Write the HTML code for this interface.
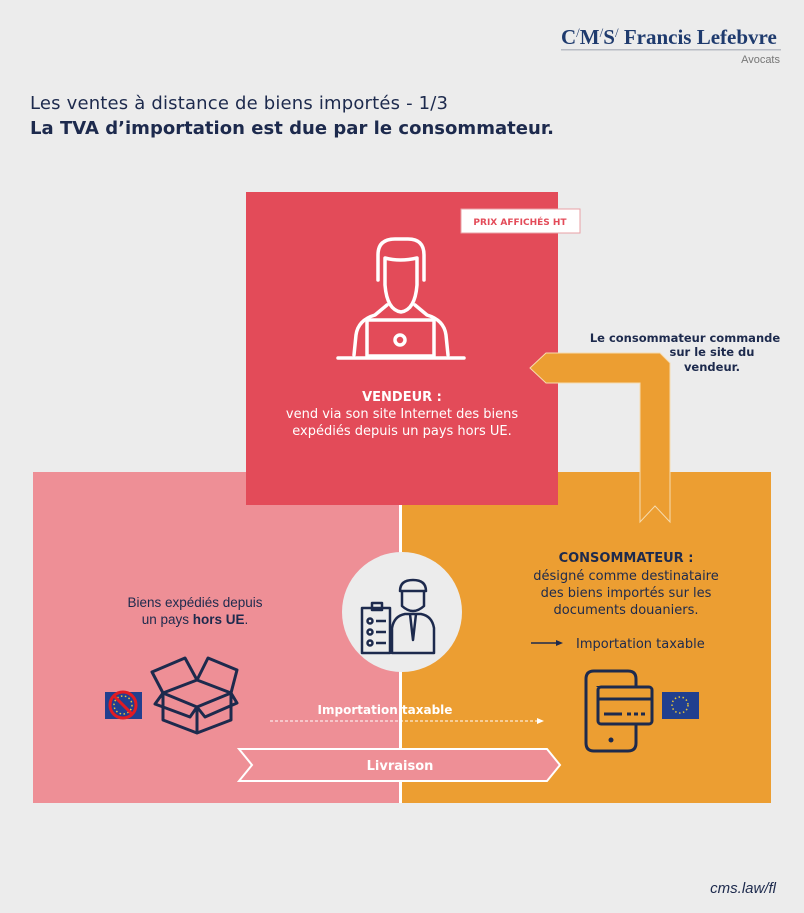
<!DOCTYPE html>
<html><head><meta charset="utf-8"><style>
body{margin:0;background:#ececec;}
svg{display:block;font-family:"Liberation Sans","DejaVu Sans",sans-serif;}
</style></head><body>
<svg width="804" height="913" viewBox="0 0 804 913" xmlns="http://www.w3.org/2000/svg">
<rect width="804" height="913" fill="#ececec"/>
<text x="561" y="44" font-family="Liberation Serif,serif" font-weight="bold" font-size="21" fill="#1f3b6e">C<tspan font-size="13" dy="-7" font-weight="normal">/</tspan><tspan dy="7">M</tspan><tspan font-size="13" dy="-7" font-weight="normal">/</tspan><tspan dy="7">S</tspan><tspan font-size="13" dy="-7" font-weight="normal">/</tspan><tspan dy="7"> Francis Lefebvre</tspan></text>
<rect x="561" y="49" width="220" height="1.5" fill="#b9bcc4"/>
<text x="780" y="63" text-anchor="end" font-size="11" fill="#777">Avocats</text>
<text x="30" y="109" font-size="18" fill="#1d2a4d" font-family="DejaVu Sans,sans-serif" textLength="418">Les ventes à distance de biens importés - 1/3</text>
<text x="30" y="134" font-size="18" font-weight="bold" fill="#1d2a4d" font-family="DejaVu Sans,sans-serif" textLength="524">La TVA d’importation est due par le consommateur.</text>
<rect x="33" y="472" width="368" height="331" fill="#ee8f96"/>
<rect x="401" y="472" width="370" height="331" fill="#ec9e32"/>
<rect x="399" y="505" width="3" height="298" fill="#fff"/>
<rect x="246" y="192" width="312" height="313" fill="#e34b59"/>
<rect x="461" y="209" width="119" height="24" fill="#fff" stroke="#e8a0a6"/>
<text x="520" y="225" text-anchor="middle" font-size="9" font-weight="bold" fill="#e34b59" font-family="DejaVu Sans,sans-serif">PRIX AFFICHÉS HT</text>
<g fill="none" stroke="#fff" stroke-width="3.5" stroke-linecap="round" stroke-linejoin="round">
<path d="M378 280 L378 255 Q378 239 395 239 L408 239 Q424 239 424 255 L424 280"/>
<path d="M385 258 L385 285 Q387 310 401 312 Q415 310 417 285 L417 258 Q400 262 385 258 Z"/>
<path d="M387 305 L375 315 Q358 320 356 335 L354 355"/>
<path d="M415 305 L427 315 Q444 320 446 335 L448 355"/>
<rect x="367" y="320" width="67" height="36"/>
<line x1="338" y1="358" x2="464" y2="358"/>
<circle cx="400" cy="340" r="5"/>
</g>
<text x="402" y="401" text-anchor="middle" font-size="13" font-weight="bold" fill="#fff" font-family="DejaVu Sans,sans-serif">VENDEUR :</text>
<text x="402" y="418" text-anchor="middle" font-size="13" fill="#fff" font-family="DejaVu Sans,sans-serif">vend via son site Internet des biens</text>
<text x="402" y="435" text-anchor="middle" font-size="13" fill="#fff" font-family="DejaVu Sans,sans-serif">expédiés depuis un pays hors UE.</text>
<path d="M530 368 L546 353 L660 353 L670 363 L670 522 L655 506 L640 522 L640 383 L546 383 Z" fill="#ec9e32" stroke="#f6dcb0" stroke-width="1"/>
<text x="685" y="342" text-anchor="middle" font-size="11.5" font-weight="bold" fill="#1d2a4d" font-family="DejaVu Sans,sans-serif">Le consommateur commande</text>
<text x="712" y="356" text-anchor="middle" font-size="11.5" font-weight="bold" fill="#1d2a4d" font-family="DejaVu Sans,sans-serif">sur le site du</text>
<text x="712" y="371" text-anchor="middle" font-size="11.5" font-weight="bold" fill="#1d2a4d" font-family="DejaVu Sans,sans-serif">vendeur.</text>
<ellipse cx="402" cy="612" rx="60" ry="60" fill="#ececec"/>
<g fill="none" stroke="#1d2a4d" stroke-width="2.5" stroke-linejoin="round">
<rect x="362" y="608" width="28" height="45"/>
<rect x="372" y="603" width="10" height="7"/>
<circle cx="370" cy="621" r="2.5"/><line x1="376" y1="621" x2="386" y2="621"/>
<circle cx="370" cy="632" r="2.5"/><line x1="376" y1="632" x2="386" y2="632"/>
<circle cx="370" cy="643" r="2.5"/><line x1="376" y1="643" x2="386" y2="643"/>
<path d="M400 591 Q400 580 413 580 Q426 580 426 591 Z"/>
<path d="M402 591 L402 606 Q413 616 424 606 L424 591"/>
<path d="M392 653 L392 628 Q394 616 405 614 L421 614 Q432 616 434 628 L434 653 Z"/>
<path d="M410 614 L413 640 L416 614"/>
</g>
<text x="195" y="607" text-anchor="middle" font-size="13.5" fill="#1d2a4d">Biens expédiés depuis</text>
<text x="195" y="624" text-anchor="middle" font-size="13.5" fill="#1d2a4d">un pays <tspan font-weight="bold">hors UE</tspan>.</text>
<rect x="105" y="692" width="37" height="27" fill="#213f8f"/>
<circle cx="123" cy="705" r="9" fill="none" stroke="#e5c43a" stroke-width="1.5" stroke-dasharray="1.5 2.5"/>
<circle cx="123" cy="705" r="13" fill="none" stroke="#e11b22" stroke-width="3"/>
<line x1="114" y1="696" x2="132" y2="714" stroke="#e11b22" stroke-width="3"/>
<g fill="none" stroke="#1d2a4d" stroke-width="3" stroke-linejoin="round">
<path d="M163 693 L197 680 L231 693 L197 707 Z"/>
<path d="M163 693 L163 720 L197 733 L231 720 L231 693"/>
<line x1="197" y1="707" x2="197" y2="733"/>
<path d="M163 693 L152 672 L185 658 L197 680"/>
<path d="M197 680 L208 658 L237 670 L231 693"/>
<path d="M163 693 L155 704 L190 717 L197 707"/>
<path d="M231 693 L237 703 L205 717 L197 707"/>
</g>
<text x="385" y="714" text-anchor="middle" font-size="12" font-weight="bold" fill="#fff" font-family="DejaVu Sans,sans-serif">Importation taxable</text>
<line x1="270" y1="721" x2="537" y2="721" stroke="#fff" stroke-width="1" stroke-dasharray="3 2"/>
<path d="M537 718 L544 721 L537 724 Z" fill="#fff"/>
<path d="M239 749 L547 749 L560 765 L547 781 L239 781 L252 765 Z" fill="#ee8f96" stroke="#fff" stroke-width="2"/>
<text x="400" y="770" text-anchor="middle" font-size="13" font-weight="bold" fill="#fff" font-family="DejaVu Sans,sans-serif">Livraison</text>
<text x="626" y="562" text-anchor="middle" font-size="13" font-weight="bold" fill="#1d2a4d" font-family="DejaVu Sans,sans-serif">CONSOMMATEUR :</text>
<text x="626" y="580" text-anchor="middle" font-size="13" fill="#1d2a4d" font-family="DejaVu Sans,sans-serif">désigné comme destinataire</text>
<text x="626" y="597" text-anchor="middle" font-size="13" fill="#1d2a4d" font-family="DejaVu Sans,sans-serif">des biens importés sur les</text>
<text x="626" y="614" text-anchor="middle" font-size="13" fill="#1d2a4d" font-family="DejaVu Sans,sans-serif">documents douaniers.</text>
<line x1="531" y1="643" x2="558" y2="643" stroke="#1d2a4d" stroke-width="1.5"/>
<path d="M556 640 L563 643 L556 646 Z" fill="#1d2a4d"/>
<text x="576" y="648" font-size="13" fill="#1d2a4d" font-family="DejaVu Sans,sans-serif">Importation taxable</text>
<g fill="none" stroke="#1d2a4d" stroke-width="3" stroke-linejoin="round">
<path d="M598 687 L598 686 M636 687 L636 679 Q636 671 628 671 L594 671 Q586 671 586 679 L586 743 Q586 751 594 751 L628 751 Q636 751 636 743 L636 724"/>
<rect x="598" y="687" width="54" height="37" rx="3" fill="#ec9e32"/>
<line x1="599" y1="699" x2="651" y2="699"/>
<line x1="604" y1="714" x2="622" y2="714"/>
<line x1="627" y1="714" x2="646" y2="714" stroke-dasharray="4 3"/>
</g>
<circle cx="611" cy="740" r="2.5" fill="#1d2a4d"/>
<rect x="662" y="692" width="37" height="27" fill="#213f8f"/>
<circle cx="680" cy="705" r="8" fill="none" stroke="#e5c43a" stroke-width="1.5" stroke-dasharray="1.5 2.5"/>
<text x="776" y="893" text-anchor="end" font-size="15" font-style="italic" fill="#1d2a4d">cms.law/fl</text>
</svg>
</body></html>
